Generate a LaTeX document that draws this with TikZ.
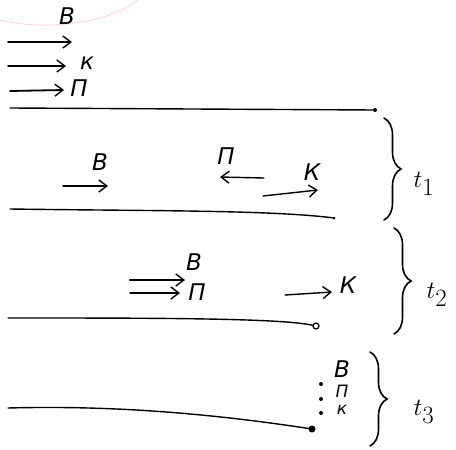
\documentclass[tikz,border=0pt]{standalone}
\usepackage{fontspec}
\newfontfamily\cyr{DejaVu Sans}
\usetikzlibrary{arrows.meta,decorations.pathreplacing}
\begin{document}
\begin{tikzpicture}[x=1pt,y=-1pt,
  ink/.style={line width=1.4pt,line cap=round},
  arr/.style={ink,-{Straight Barb[length=8pt,width=12pt,line width=1.4pt]}},
  lab/.style={font=\cyr\itshape\fontsize{23}{23}\selectfont,inner sep=1pt},
  slab/.style={font=\cyr\itshape\fontsize{17}{17}\selectfont,inner sep=1pt},
  tlab/.style={font=\fontsize{38}{38}\selectfont,inner sep=1pt},
  brc/.style={ink,line width=1.6pt,decorate,decoration={brace,amplitude=17pt}},
  endpt/.style={circle,fill=black,inner sep=0pt,minimum size=4pt},
  opendot/.style={circle,draw=black,fill=white,line width=1.2pt,inner sep=0pt,minimum size=6pt}]
\useasboundingbox (0,0) rectangle (456,450);
% faint pink arc
\draw[pink!70,line width=0.8pt] (0,20) .. controls (50,32) and (110,22) .. (138,0);
% row 0
\coordinate (a1s) at (8,42); \coordinate (a1e) at (72,42);
\coordinate (a2s) at (8,66); \coordinate (a2e) at (66,66);
\coordinate (a3s) at (10,91); \coordinate (a3e) at (64,90);
\draw[arr,line width=1.8pt] (a1s) -- (a1e);
\draw[arr] (a2s) -- (a2e);
\draw[arr,line width=1.8pt] (a3s) -- (a3e);
\node[lab] (l0b) at (67,16) {В};
\node[lab] (l0k) at (87,63) {к};
\node[lab] (l0p) at (79,88) {П};
\coordinate (g0s) at (10,108);
\node[endpt] (g0e) at (375,110) {};
\draw[ink] (g0s) -- (g0e);
% row t1
\coordinate (b1s) at (63,186); \coordinate (b1e) at (108,186);
\coordinate (p1s) at (264,178); \coordinate (p1e) at (220,177);
\coordinate (k1s) at (263,196); \coordinate (k1e) at (318,190);
\draw[arr] (b1s) -- (b1e);
\draw[arr] (p1s) -- (p1e);
\draw[arr] (k1s) -- (k1e);
\node[lab] (l1b) at (100,162) {В};
\node[lab] (l1p) at (226,156) {П};
\node[lab] (l1k) at (312,172) {К};
\coordinate (g1s) at (10,209);
\node[endpt,minimum size=3pt] (g1e) at (334,218) {};
\draw[ink] (g1s) .. controls (150,211) and (270,210) .. (g1e);
\coordinate (br1t) at (384,118); \coordinate (br1b) at (384,220);
\draw[brc] (br1t) -- (br1b);
\node[tlab] (t1) at (424,184) {$t_1$};
% row t2
\coordinate (b2s) at (130,280); \coordinate (b2e) at (185,280);
\coordinate (p2s) at (130,293); \coordinate (p2e) at (180,293);
\coordinate (k2s) at (285,295); \coordinate (k2e) at (332,292);
\draw[arr,line width=2.4pt] (b2s) -- (b2e);
\draw[arr] (p2s) -- (p2e);
\draw[arr] (k2s) -- (k2e);
\node[lab] (l2b) at (194,262) {В};
\node[lab] (l2p) at (197,292) {П};
\node[lab] (l2k) at (348,285) {К};
\coordinate (g2s) at (8,318);
\node[opendot] (g2e) at (316,326) {};
\draw[ink] (g2s) .. controls (150,318) and (280,318) .. (g2e);
\coordinate (br2t) at (394,228); \coordinate (br2b) at (394,334);
\draw[brc] (br2t) -- (br2b);
\node[tlab] (t2) at (437,295) {$t_2$};
% row t3
\node[lab] (l3b) at (342,369) {В};
\node[slab] (l3p) at (342,391) {П};
\node[slab] (l3k) at (342,410) {к};
\node[endpt,minimum size=4pt] (d1) at (321,384) {};
\node[endpt,minimum size=4pt] (d2) at (321,399) {};
\node[endpt,minimum size=4pt] (d3) at (321,413) {};
\coordinate (g3s) at (8,408);
\node[endpt,minimum size=7pt] (g3e) at (312,429) {};
\draw[ink] (g3s) .. controls (120,405) and (220,415) .. (g3e);
\coordinate (br3t) at (370,352); \coordinate (br3b) at (370,446);
\draw[brc] (br3t) -- (br3b);
\node[tlab] (t3) at (424,412) {$t_3$};
\end{tikzpicture}
\end{document}
